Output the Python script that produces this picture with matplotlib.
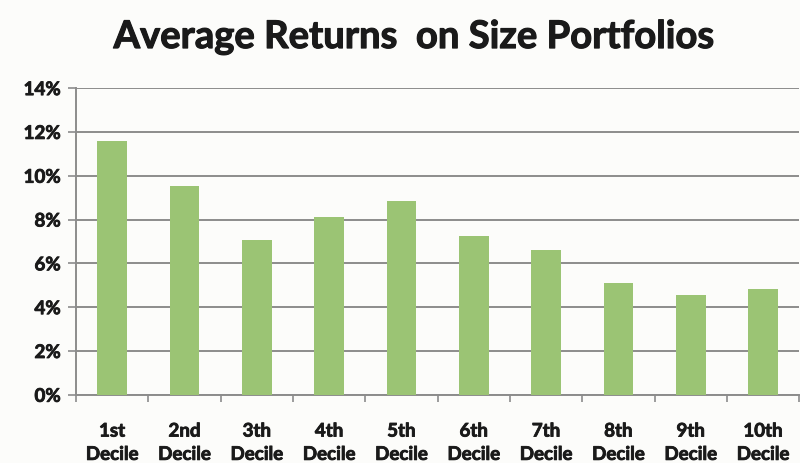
import matplotlib.pyplot as plt
import numpy as np
from matplotlib.ticker import FuncFormatter
import matplotlib.patheffects as pe

deciles = ["1st", "2nd", "3th", "4th", "5th", "6th", "7th", "8th", "9th", "10th"]
returns = [11.6, 9.55, 7.05, 8.1, 8.85, 7.25, 6.6, 5.1, 4.55, 4.85]
yticks = [0, 2, 4, 6, 8, 10, 12, 14]

plt.rcParams['font.family'] = ['Lato', 'DejaVu Sans']
plt.rcParams['font.weight'] = 'bold'

bg = '#fcfcfa'
txt = '#1a1a1a'
thick = [pe.withStroke(linewidth=0.6, foreground=txt)]

fig = plt.figure(figsize=(8, 4.64), dpi=100, facecolor=bg)
ax = fig.add_axes([0.095, 0.147, 0.904, 0.661], facecolor=bg)

x = np.arange(len(deciles))
ax.bar(x, returns, width=0.41, color='#9bc474', zorder=3)

ax.set_xlim(-0.5, len(deciles) - 0.5)
ax.set_ylim(0, 14)
ax.set_yticks(yticks)
ax.yaxis.set_major_formatter(FuncFormatter(lambda v, p: f"{v:.0f}%"))
ax.grid(axis='y', color='#8c8c8c', linewidth=1.4, zorder=1)

ax.set_xticks(x)
ax.set_xticklabels([d + "\nDecile" for d in deciles], fontsize=13.5, fontweight='bold',
                   linespacing=1.45, color=txt)
ax.set_xticks(np.arange(-0.5, len(deciles)), minor=True)
ax.tick_params(axis='x', which='major', length=0, pad=20)
ax.tick_params(axis='x', which='minor', length=5, color='#8c8c8c', width=1.2)
ax.tick_params(axis='y', length=6, color='#8c8c8c', width=1.2, labelsize=13.5,
               labelcolor=txt, pad=5)
for lbl in ax.get_yticklabels() + ax.get_xticklabels():
    lbl.set_fontweight('bold')
    lbl.set_path_effects(thick)

for s in ['top', 'right']:
    ax.spines[s].set_visible(False)
for s in ['left', 'bottom']:
    ax.spines[s].set_color('#8c8c8c')
    ax.spines[s].set_linewidth(1.4)

fig.text(0.518, 0.918, "Average Returns  on Size Portfolios", ha='center', va='center',
         fontsize=27.5, fontweight='bold', color=txt,
         path_effects=[pe.withStroke(linewidth=0.8, foreground=txt)])

fig.savefig('out.png', dpi=100, facecolor=bg)
